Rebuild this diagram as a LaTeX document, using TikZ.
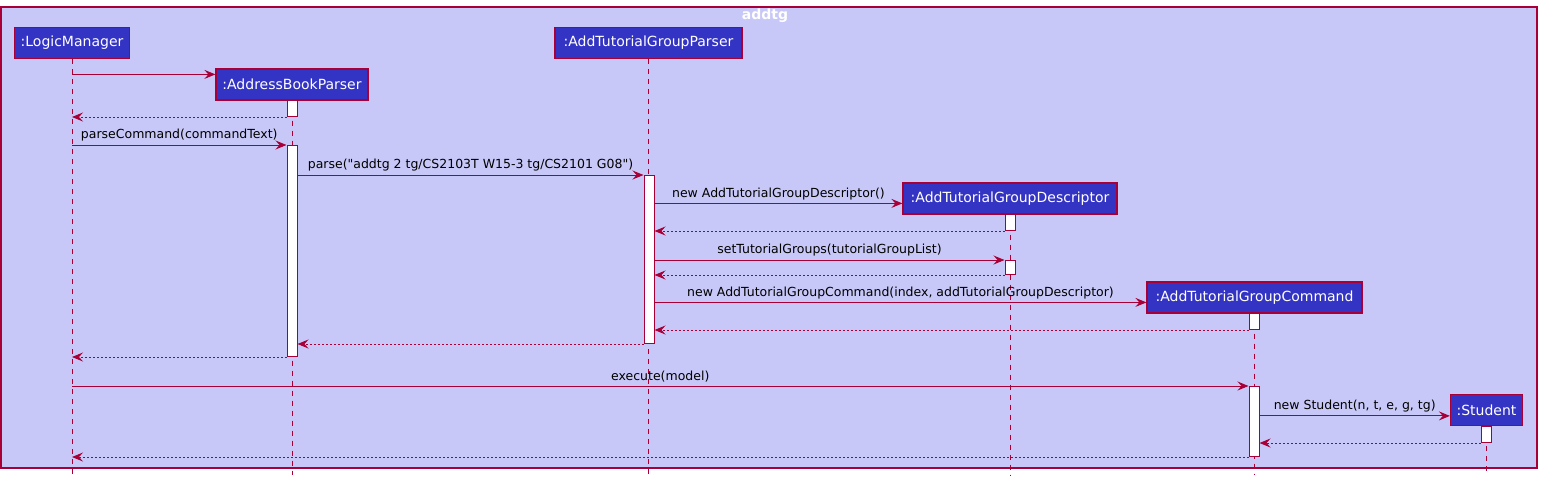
\documentclass[tikz,border=0pt]{standalone}
\usepackage{fontspec}
\setmainfont{DejaVu Sans}
\usetikzlibrary{arrows.meta, calc}
\definecolor{umlred}{RGB}{168,0,54}
\definecolor{umlblue}{RGB}{52,52,196}
\definecolor{umlback}{RGB}{200,200,248}

\begin{document}
\begin{tikzpicture}[x=1pt, y=-1pt, >={Stealth[length=11pt, width=9pt, inset=4pt]},
    part/.style={draw=umlred, line width=1.2pt, fill=umlblue, text=white, font=\fontsize{14}{16}\selectfont, minimum height=31pt, inner sep=0pt},
    actbar/.style={draw=umlred, line width=1pt, fill=white, minimum width=10pt, inner sep=0pt, anchor=north},
    msg/.style={->, umlred, line width=1pt},
    ret/.style={->, umlred, line width=1pt, dash pattern=on 2pt off 2pt},
    life/.style={umlred, line width=1pt, dash pattern=on 5pt off 5pt},
    lbl/.style={text=black, font=\fontsize{12.5}{14}\selectfont, inner sep=3pt}]
    \useasboundingbox (0,0) rectangle (1541,480);

    % Frame
    \draw[umlred, fill=umlback, line width=1.2pt] (1,7) rectangle (1537,468);
    \node[text=white, font=\bfseries\fontsize{14}{16}\selectfont] (title) at (765,16) {addtg};
    \coordinate (bottom) at (0,475);

    % Participants
    \node (lm) [part, minimum width=115pt] at (72,43) {:LogicManager};
    \node (abp) [part, minimum width=152pt] at (292,84.5) {:AddressBookParser};
    \node (atgp) [part, minimum width=187pt] at (648.5,43) {:AddTutorialGroupParser};
    \node (atgd) [part, minimum width=214pt] at (1010,198.5) {:AddTutorialGroupDescriptor};
    \node (atgc) [part, minimum width=215pt] at (1254.5,297.5) {:AddTutorialGroupCommand};
    \node (stu) [part, minimum width=72pt] at (1486.5,410) {:Student};

    % Lifelines
    \foreach \p in {lm, abp, atgp, atgd, atgc, stu}
        \draw[life] (\p.south) -- (\p.south |- bottom);

    % Activation bars
    \node (actA1) [actbar, minimum height=16pt] at (292,100) {};
    \node (actA2) [actbar, minimum height=211pt] at (292,145) {};
    \node (actP) [actbar, minimum height=168pt] at (649,175) {};
    \node (actD1) [actbar, minimum height=16pt] at (1010,214) {};
    \node (actD2) [actbar, minimum height=14pt] at (1010,260) {};
    \node (actC1) [actbar, minimum height=16pt] at (1254,313) {};
    \node (actC2) [actbar, minimum height=70pt] at (1254,386) {};
    \node (actS) [actbar, minimum height=16pt] at (1486,426) {};

    % Messages
    \draw[msg] (lm |- {$(abp.north west)+(0,6)$}) -- ($(abp.north west)+(0,6)$);
    \draw[ret] (actA1.south west) -- (lm |- actA1.south);
    \draw[msg] (lm |- actA2.north) -- (actA2.north west) node[lbl, midway, above] {parseCommand(commandText)};
    \draw[msg] (actA2.east |- actP.north) -- (actP.north west) node[lbl, midway, above] {parse(\textquotedbl addtg 2 tg/CS2103T W15-3 tg/CS2101 G08\textquotedbl)};
    \draw[msg] (actP.east |- {$(atgd.north west)+(0,21)$}) -- ($(atgd.north west)+(0,21)$) node[lbl, midway, above] {new AddTutorialGroupDescriptor()};
    \draw[ret] (actD1.south west) -- (actP.east |- actD1.south);
    \draw[msg] (actP.east |- actD2.north) -- (actD2.north west) node[lbl, midway, above] {setTutorialGroups(tutorialGroupList)};
    \draw[ret] (actD2.south west) -- (actP.east |- actD2.south);
    \draw[msg] (actP.east |- {$(atgc.north west)+(0,21)$}) -- ($(atgc.north west)+(0,21)$) node[lbl, midway, above] {new AddTutorialGroupCommand(index, addTutorialGroupDescriptor)};
    \draw[ret] (actC1.south west) -- (actP.east |- actC1.south);
    \draw[ret] (actP.south west) -- (actA2.east |- actP.south);
    \draw[ret] (actA2.south west) -- (lm |- actA2.south);
    \draw[msg] (lm |- actC2.north) -- (actC2.north west) node[lbl, midway, above] {execute(model)};
    \draw[msg] (actC2.east |- {$(stu.north west)+(0,22)$}) -- ($(stu.north west)+(0,22)$) node[lbl, midway, above] {new Student(n, t, e, g, tg)};
    \draw[ret] (actS.south west) -- (actC2.east |- actS.south);
    \draw[ret] (actC2.south west) -- (lm |- actC2.south);

\end{tikzpicture}
\end{document}
